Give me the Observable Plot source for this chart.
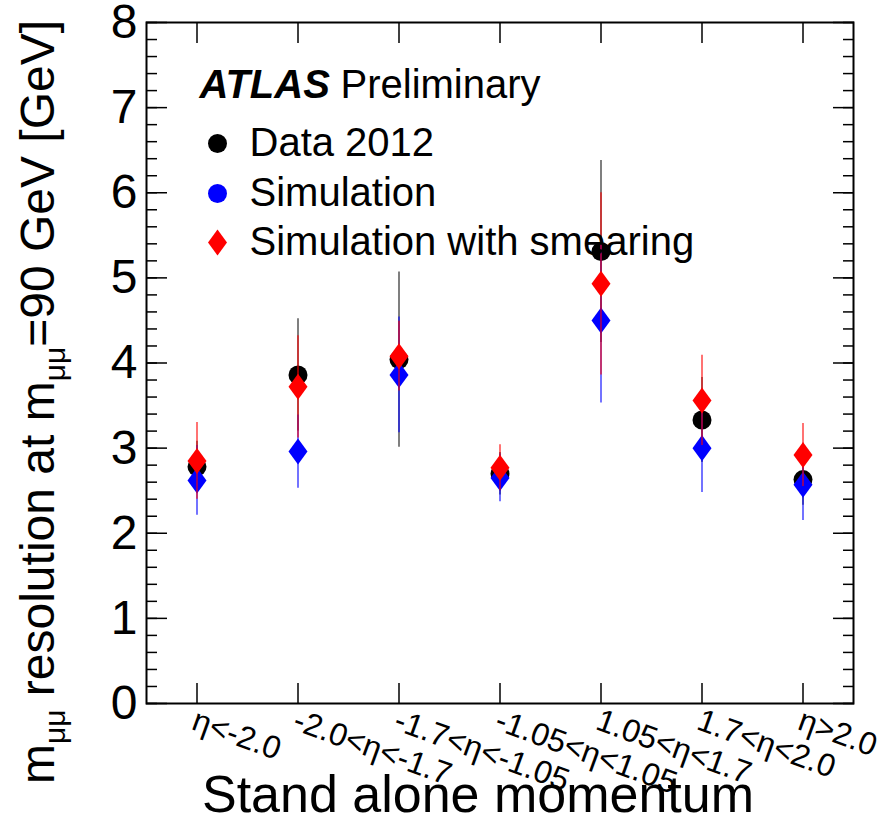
<!DOCTYPE html>
<html>
<head>
<meta charset="utf-8">
<script src="https://cdn.jsdelivr.net/npm/d3@7"></script>
<script src="https://cdn.jsdelivr.net/npm/@observablehq/plot@0.6"></script>
<style>
  html, body { margin: 0; padding: 0; background: #fff; }
  svg { display: block; }
</style>
</head>
<body>
<div id="chart"></div>
<script>
// ---- data ----
const etaLabels = ["η<-2.0", "-2.0<η<-1.7", "-1.7<η<-1.05", "-1.05<η<1.05", "1.05<η<1.7", "1.7<η<2.0", "η>2.0"];
const dataValues  = [2.78, 3.86, 4.04, 2.70, 5.31, 3.33, 2.63];
const dataErrors  = [0.30, 0.66, 1.03, 0.25, 1.07, 0.50, 0.30];
const simValues   = [2.62, 2.96, 3.86, 2.65, 4.50, 3.00, 2.57];
const simErrors   = [0.41, 0.43, 0.68, 0.28, 0.97, 0.52, 0.42];
const smearValues = [2.85, 3.72, 4.08, 2.77, 4.93, 3.56, 2.92];
const smearErrors = [0.45, 0.60, 0.41, 0.27, 1.07, 0.53, 0.37];
const yMajorTicks = [0, 1, 2, 3, 4, 5, 6, 7, 8];
const yMinorTicks = d3.range(0, 40.5, 1).map(i => i / 5);
const legendEntries = ["Data 2012", "Simulation", "Simulation with smearing"];
const xTitle = "Stand alone momentum";

// ---- tables built from the arrays ----
const mk = (vals, errs) => etaLabels.map((c, i) => ({cat: c, v: vals[i], lo: vals[i] - errs[i], hi: vals[i] + errs[i]}));
const dataRows = mk(dataValues, dataErrors);
const simRows = mk(simValues, simErrors);
const smearRows = mk(smearValues, smearErrors);

// tall diamond marker (ROOT style 33)
const tallDiamond = {
  draw(context, size) {
    const r = Math.sqrt(size / Math.PI);
    const h = r * 1.37;
    context.moveTo(0, -h);
    context.lineTo(r, 0);
    context.lineTo(0, h);
    context.lineTo(-r, 0);
    context.closePath();
  }
};

const FONT = "'Liberation Sans', Helvetica, Arial, sans-serif";
const noText = () => "";
const legendText = (i, dy) => Plot.text([legendEntries[i]], {
  frameAnchor: "top-left", dx: 103, dy, text: d => d, textAnchor: "start", lineAnchor: "middle", fontSize: 40, fill: "black"
});

const plot = Plot.plot({
  width: 884,
  height: 831,
  marginLeft: 146,
  marginRight: 31,
  marginTop: 22,
  marginBottom: 128,
  style: {fontFamily: FONT, background: "white", overflow: "visible"},
  x: {type: "band", domain: etaLabels, padding: 0},
  y: {type: "linear", domain: [0, 8]},
  marks: [
    // inward ticks
    Plot.axisY(yMinorTicks, {anchor: "left", tickSize: -11, tickFormat: noText, label: null, strokeWidth: 1.5}),
    Plot.axisY(yMajorTicks, {anchor: "left", tickSize: -21, tickFormat: noText, label: null, strokeWidth: 1.5}),
    Plot.axisY(yMinorTicks, {anchor: "right", tickSize: -11, tickFormat: noText, label: null, strokeWidth: 1.5}),
    Plot.axisY(yMajorTicks, {anchor: "right", tickSize: -21, tickFormat: noText, label: null, strokeWidth: 1.5}),
    Plot.axisX({anchor: "bottom", tickSize: -20, tickFormat: noText, label: null, strokeWidth: 1.5}),
    Plot.axisX({anchor: "top", tickSize: -20, tickFormat: noText, label: null, strokeWidth: 1.5}),
    // y tick labels
    Plot.axisY(yMajorTicks, {anchor: "left", tickSize: 0, tickPadding: 9, fontSize: 48, label: null, fill: "black", tickFormat: d => String(d)}),
    // x tick labels, rotated
    Plot.text(etaLabels, {
      x: d => d, y: () => 0, text: d => d,
      rotate: 20, textAnchor: "start", lineAnchor: "top",
      dx: 1, dy: 4, fontSize: 32, fill: "black"
    }),
    Plot.frame({stroke: "black", strokeWidth: 2}),

    // Data 2012
    Plot.ruleX(dataRows, {x: "cat", y1: "lo", y2: "hi", stroke: "black", strokeOpacity: 0.5, strokeWidth: 2}),
    Plot.dot(dataRows, {x: "cat", y: "v", r: 9.5, fill: "black", symbol: "circle"}),
    // Simulation
    Plot.ruleX(simRows, {x: "cat", y1: "lo", y2: "hi", stroke: "blue", strokeOpacity: 0.55, strokeWidth: 2}),
    Plot.dot(simRows, {x: "cat", y: "v", r: 9.5, fill: "blue", symbol: tallDiamond}),
    // Simulation with smearing
    Plot.ruleX(smearRows, {x: "cat", y1: "lo", y2: "hi", stroke: "red", strokeOpacity: 0.55, strokeWidth: 2}),
    Plot.dot(smearRows, {x: "cat", y: "v", r: 9.5, fill: "red", symbol: tallDiamond}),

    // legend / labels
    Plot.text(["ATLAS"], {frameAnchor: "top-left", dx: 53, dy: 63, text: d => d, textAnchor: "start", lineAnchor: "middle", fontSize: 40, fontWeight: "bold", fontStyle: "italic", fill: "black"}),
    Plot.text(["Preliminary"], {frameAnchor: "top-left", dx: 194, dy: 63, text: d => d, textAnchor: "start", lineAnchor: "middle", fontSize: 40, fill: "black"}),
    Plot.dot([0], {frameAnchor: "top-left", dx: 71, dy: 121, r: 9.5, fill: "black"}),
    Plot.dot([0], {frameAnchor: "top-left", dx: 71, dy: 171, r: 9.5, fill: "blue"}),
    Plot.dot([0], {frameAnchor: "top-left", dx: 71, dy: 220, r: 9.5, fill: "red", symbol: tallDiamond}),
    legendText(0, 121),
    legendText(1, 171),
    legendText(2, 220)
  ]
});

document.getElementById("chart").appendChild(plot);

// axis titles (real text, with subscripts)
const svg = d3.select(plot);
svg.append("text")
  .attr("x", 478).attr("y", 812)
  .attr("text-anchor", "middle")
  .attr("font-family", FONT).attr("font-size", 52).attr("fill", "black")
  .text(xTitle);

const yt = svg.append("text")
  .attr("transform", "translate(54,402) rotate(-90)")
  .attr("text-anchor", "middle")
  .attr("font-family", FONT).attr("font-size", 48).attr("fill", "black");
yt.append("tspan").text("m");
yt.append("tspan").attr("font-size", 30).attr("dy", 11).text("μμ");
yt.append("tspan").attr("dy", -11).text(" resolution at m");
yt.append("tspan").attr("font-size", 30).attr("dy", 11).text("μμ");
yt.append("tspan").attr("dy", -11).text("=90 GeV [GeV]");
</script>
</body>
</html>
